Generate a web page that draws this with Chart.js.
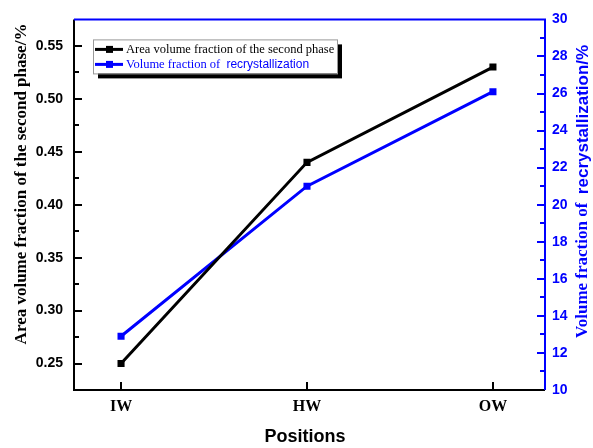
<!DOCTYPE html>
<html>
<head>
<meta charset="utf-8">
<script src="https://cdn.jsdelivr.net/npm/chart.js@4"></script>
<style>
  html, body { margin: 0; padding: 0; background: #fff; }
  canvas { display: block; }
</style>
</head>
<body>
<canvas id="chart" width="593" height="448"></canvas>
<script>
// data
const positions = ['IW', 'HW', 'OW'];
const secondPhase = [0.25, 0.44, 0.53];
const recrystallization = [12.9, 21.0, 26.1];

const leftTicks = [0.25, 0.30, 0.35, 0.40, 0.45, 0.50, 0.55];
const rightTicks = [10, 12, 14, 16, 18, 20, 22, 24, 26, 28, 30];

const SERIF = "'Liberation Serif', 'Times New Roman', serif";
const SANS = "'Liberation Sans', Arial, sans-serif";
const BLUE = '#0000ff';

// inward tick marks, frame and axis titles
const framePlugin = {
  id: 'frame',
  afterDraw(chart) {
    const ctx = chart.ctx;
    const a = chart.chartArea;
    const sx = chart.scales.x, sl = chart.scales.y, sr = chart.scales.y1;
    ctx.save();
    ctx.lineWidth = 2;

    // left minor + major ticks
    ctx.strokeStyle = '#000';
    for (let v = 0.25; v < 0.575; v += 0.025) {
      const major = Math.abs(v / 0.05 - Math.round(v / 0.05)) < 1e-6;
      const y = Math.round(sl.getPixelForValue(v));
      ctx.beginPath();
      ctx.moveTo(a.left, y);
      ctx.lineTo(a.left + (major ? 8 : 5), y);
      ctx.stroke();
    }
    // bottom ticks
    positions.forEach((p, i) => {
      const x = Math.round(sx.getPixelForValue(i));
      ctx.beginPath();
      ctx.moveTo(x, a.bottom);
      ctx.lineTo(x, a.bottom - 8);
      ctx.stroke();
    });
    // right ticks
    ctx.strokeStyle = BLUE;
    for (let v = 11; v < 30; v++) {
      const y = Math.round(sr.getPixelForValue(v));
      ctx.beginPath();
      ctx.moveTo(a.right, y);
      ctx.lineTo(a.right - (v % 2 === 0 ? 8 : 5), y);
      ctx.stroke();
    }

    // frame
    ctx.strokeStyle = '#000';
    ctx.beginPath();
    ctx.moveTo(a.left, a.top);
    ctx.lineTo(a.left, a.bottom);
    ctx.lineTo(a.right, a.bottom);
    ctx.stroke();
    ctx.strokeStyle = BLUE;
    ctx.beginPath();
    ctx.moveTo(a.left, a.top);
    ctx.lineTo(a.right, a.top);
    ctx.lineTo(a.right, a.bottom);
    ctx.stroke();

    // titles
    ctx.fillStyle = '#000';
    ctx.textBaseline = 'middle';
    ctx.textAlign = 'center';
    ctx.font = 'bold 18px ' + SANS;
    ctx.fillText('Positions', 305, 437);

    ctx.save();
    ctx.translate(22, 184);
    ctx.rotate(-Math.PI / 2);
    ctx.font = 'bold 17px ' + SERIF;
    ctx.fillText('Area volume fraction of the second phase/%', 0, 0);
    ctx.restore();

    ctx.save();
    ctx.translate(583, 338);
    ctx.rotate(-Math.PI / 2);
    ctx.textAlign = 'left';
    ctx.fillStyle = BLUE;
    ctx.font = 'bold 17px ' + SERIF;
    const p1 = 'Volume fraction of  ';
    ctx.fillText(p1, 0, 0);
    const w1 = ctx.measureText(p1).width;
    ctx.font = 'bold 17px ' + SANS;
    ctx.fillText('recrystallization/%', w1, 0);
    ctx.restore();

    ctx.restore();
  }
};

// legend box with shadow
const legendPlugin = {
  id: 'boxLegend',
  afterDraw(chart) {
    const ctx = chart.ctx;
    const a = chart.chartArea;
    const x = a.left + 19, y = a.top + 20, w = 244, h = 34;
    ctx.save();
    ctx.fillStyle = '#000';
    ctx.fillRect(x + 5, y + 5, w, h);
    ctx.fillStyle = '#fff';
    ctx.fillRect(x, y, w, h);
    ctx.strokeStyle = '#999';
    ctx.lineWidth = 1;
    ctx.strokeRect(x + 0.5, y + 0.5, w, h);

    chart.data.datasets.forEach((ds, i) => {
      const cy = y + 10 + i * 15;
      ctx.strokeStyle = ds.borderColor;
      ctx.lineWidth = 3;
      ctx.beginPath();
      ctx.moveTo(x + 2, cy);
      ctx.lineTo(x + 30, cy);
      ctx.stroke();
      ctx.fillStyle = ds.borderColor;
      ctx.fillRect(x + 13, cy - 3.5, 7, 7);

      ctx.textBaseline = 'middle';
      ctx.textAlign = 'left';
      const parts = ds.label.split(/(recrystallization.*)/).filter(s => s);
      let tx = x + 33;
      parts.forEach(part => {
        const sans = part.startsWith('recrystallization');
        ctx.font = (sans ? '12px ' + SANS : '12.5px ' + SERIF);
        ctx.fillText(part, tx, cy);
        tx += ctx.measureText(part).width;
      });
    });
    ctx.restore();
  }
};

new Chart(document.getElementById('chart'), {
  type: 'line',
  data: {
    datasets: [{
      label: 'Area volume fraction of the second phase',
      data: positions.map((p, i) => ({ x: i, y: secondPhase[i] })),
      yAxisID: 'y',
      borderColor: '#000',
      backgroundColor: '#000',
      borderWidth: 3,
      pointStyle: 'rect',
      pointRadius: 5,
      pointBorderWidth: 0,
      tension: 0
    }, {
      label: 'Volume fraction of  recrystallization',
      data: positions.map((p, i) => ({ x: i, y: recrystallization[i] })),
      yAxisID: 'y1',
      borderColor: BLUE,
      backgroundColor: BLUE,
      borderWidth: 3,
      pointStyle: 'rect',
      pointRadius: 5,
      pointBorderWidth: 0,
      tension: 0
    }]
  },
  options: {
    responsive: false,
    animation: false,
    devicePixelRatio: 1,
    layout: { padding: { top: 13, left: 0, right: 0, bottom: 0 } },
    plugins: {
      legend: { display: false },
      tooltip: { enabled: false }
    },
    scales: {
      x: {
        type: 'linear',
        min: -0.253,
        max: 2.28,
        grid: { display: false, drawTicks: false },
        border: { display: false },
        afterBuildTicks: s => { s.ticks = positions.map((p, i) => ({ value: i })); },
        afterFit: s => { s.height = 58; },
        ticks: {
          color: '#000',
          padding: 7,
          autoSkip: false,
          maxRotation: 0,
          font: { family: SERIF, size: 16, weight: 'bold' },
          callback: v => positions[v]
        }
      },
      y: {
        position: 'left',
        min: 0.225,
        max: 0.575,
        grid: { display: false, drawTicks: false },
        border: { display: false },
        afterBuildTicks: s => { s.ticks = leftTicks.map(v => ({ value: v })); },
        afterFit: s => { s.width = 74; },
        ticks: {
          color: '#000',
          padding: 11,
          font: { family: SANS, size: 14, weight: 'bold' },
          callback: v => v.toFixed(2)
        }
      },
      y1: {
        position: 'right',
        min: 10,
        max: 30,
        grid: { display: false, drawTicks: false },
        border: { display: false },
        afterBuildTicks: s => { s.ticks = rightTicks.map(v => ({ value: v })); },
        afterFit: s => { s.width = 48; },
        ticks: {
          color: BLUE,
          padding: 7,
          font: { family: SANS, size: 14, weight: 'bold' }
        }
      }
    }
  },
  plugins: [framePlugin, legendPlugin]
});
</script>
</body>
</html>
